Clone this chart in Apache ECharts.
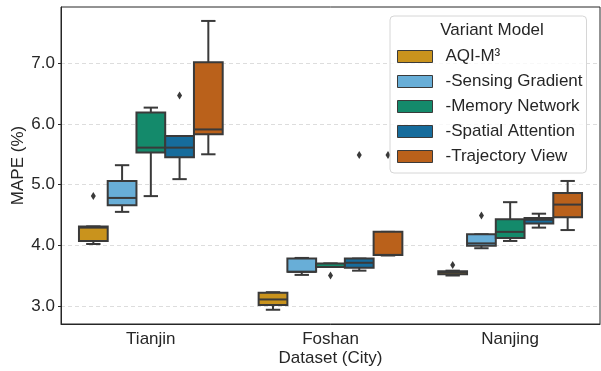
<!DOCTYPE html>
<html>
<head>
<meta charset="utf-8">
<script src="https://cdn.jsdelivr.net/npm/echarts@6/dist/echarts.min.js"></script>
<style>
  html, body { margin: 0; padding: 0; background: #fff; }
  #chart { width: 601px; height: 371px; }
</style>
</head>
<body>
<div id="chart"></div>
<script>
// categories and tick labels
const cities = ['Tianjin', 'Foshan', 'Nanjing'];
const variants = ['AQI-M³', '-Sensing Gradient', '-Memory Network', '-Spatial Attention', '-Trajectory View'];
const yTicks = [3, 4, 5, 6, 7];

// [min, q1, median, q3, max] for each city
const aqiStats        = [[4.02, 4.07, 4.29, 4.31, 4.31], [2.935, 3.015, 3.105, 3.215, 3.225], [3.50, 3.52, 3.55, 3.57, 3.58]];
const sensingStats    = [[4.55, 4.66, 4.78, 5.06, 5.32], [3.51, 3.56, 3.56, 3.78, 3.79], [3.95, 3.99, 4.03, 4.18, 4.18]];
const memoryStats     = [[4.81, 5.53, 5.61, 6.19, 6.27], [3.64, 3.64, 3.64, 3.70, 3.70], [4.07, 4.12, 4.22, 4.43, 4.71]];
const spatialStats    = [[5.09, 5.45, 5.61, 5.80, 5.80], [3.58, 3.63, 3.71, 3.78, 3.78], [4.29, 4.36, 4.42, 4.45, 4.52]];
const trajectoryStats = [[5.50, 5.83, 5.91, 7.02, 7.70], [3.83, 3.84, 3.84, 4.22, 4.22], [4.25, 4.46, 4.67, 4.86, 5.06]];

// outliers: [cityIndex, variantIndex, value]
const outliers = [
  [0, 0, 4.81], [0, 3, 6.47],
  [1, 2, 3.50], [1, 3, 5.49], [1, 4, 5.49],
  [2, 0, 3.675], [2, 1, 4.49]
];

const allStats = [aqiStats, sensingStats, memoryStats, spatialStats, trajectoryStats];
const colors = ['#c9931d', '#68aed7', '#148a6b', '#166c9c', '#ba611b'];
const lineColor = '#3a3a3a';
const font = 'Liberation Sans';
const fs = 17;

const boxX = (api, cityIdx, k) => {
  const band = api.size([1, 0])[0];
  const w = band * 0.8 / variants.length;
  const cx = api.coord([cityIdx, 0])[0] + (k - (variants.length - 1) / 2) * w;
  return { cx, w };
};

const boxRender = (k) => (params, api) => {
  const ci = api.value(0);
  const { cx, w } = boxX(api, ci, k);
  const y = [1, 2, 3, 4, 5].map(d => api.coord([ci, api.value(d)])[1]);
  const ls = { stroke: lineColor, lineWidth: 2 };
  return {
    type: 'group',
    children: [
      { type: 'line', shape: { x1: cx, y1: y[0], x2: cx, y2: y[1] }, style: ls },
      { type: 'line', shape: { x1: cx, y1: y[3], x2: cx, y2: y[4] }, style: ls },
      { type: 'line', shape: { x1: cx - w / 4, y1: y[0], x2: cx + w / 4, y2: y[0] }, style: ls },
      { type: 'line', shape: { x1: cx - w / 4, y1: y[4], x2: cx + w / 4, y2: y[4] }, style: ls },
      { type: 'rect', shape: { x: cx - w / 2, y: y[3], width: w, height: y[1] - y[3] },
        style: { fill: colors[k], stroke: lineColor, lineWidth: 2 } },
      { type: 'line', shape: { x1: cx - w / 2, y1: y[2], x2: cx + w / 2, y2: y[2] }, style: ls }
    ]
  };
};

const boxSeries = variants.map((name, k) => ({
  name,
  type: 'custom',
  renderItem: boxRender(k),
  itemStyle: { color: colors[k] },
  encode: { x: 0, y: [1, 2, 3, 4, 5] },
  data: allStats[k].map((s, i) => [i, ...s]),
  z: 2
}));

const outlierSeries = {
  type: 'custom',
  renderItem: (params, api) => {
    const ci = api.value(0);
    const { cx } = boxX(api, ci, api.value(1));
    const cy = api.coord([ci, api.value(2)])[1];
    return {
      type: 'polygon',
      shape: { points: [[cx, cy - 4], [cx + 2.5, cy], [cx, cy + 4], [cx - 2.5, cy]] },
      style: { fill: lineColor }
    };
  },
  encode: { x: 0, y: 2 },
  data: outliers,
  z: 3
};

const chart = echarts.init(document.getElementById('chart'));
chart.setOption({
  animation: false,
  backgroundColor: '#fff',
  textStyle: { fontFamily: font },
  grid: {
    left: 61, right: 1, top: 7, bottom: 47,
    outerBoundsMode: 'none', containLabel: false,
    show: true, borderColor: '#262626', borderWidth: 1
  },
  legend: {
    orient: 'vertical',
    left: 390, top: 16,
    padding: [32, 4, 8, 7],
    itemWidth: 35, itemHeight: 12, itemGap: 8,
    icon: 'rect',
    itemStyle: { borderColor: lineColor, borderWidth: 1 },
    textStyle: { fontFamily: font, fontSize: fs, color: '#262626', padding: [0, 0, 0, 8] },
    borderColor: '#d6d6d6', borderWidth: 1, borderRadius: 4,
    backgroundColor: 'rgba(255,255,255,0.8)',
    selectedMode: false,
    data: variants
  },
  graphic: [{
    type: 'text', x: 492, y: 30, z: 10,
    style: { text: 'Variant Model', fontFamily: font, fontSize: fs, fill: '#262626',
      textAlign: 'center', textVerticalAlign: 'middle' }
  }],
  xAxis: {
    type: 'category',
    data: cities,
    name: 'Dataset (City)', nameLocation: 'middle', nameGap: 26, nameMoveOverlap: false,
    nameTextStyle: { fontFamily: font, fontSize: fs, color: '#262626' },
    axisLine: { lineStyle: { color: '#262626', width: 1 } },
    axisTick: { alignWithLabel: true, length: 4, lineStyle: { color: '#262626' } },
    axisLabel: { fontFamily: font, fontSize: fs, color: '#262626', margin: 7 },
    splitLine: { show: false }
  },
  yAxis: {
    type: 'value',
    min: 2.7, max: 7.93,
    name: 'MAPE (%)', nameLocation: 'middle', nameGap: 34, nameMoveOverlap: false,
    nameTextStyle: { fontFamily: font, fontSize: fs, color: '#262626' },
    axisLine: { show: true, lineStyle: { color: '#262626', width: 1 } },
    axisTick: { show: true, length: 3, customValues: yTicks, lineStyle: { color: '#262626' } },
    axisLabel: { fontFamily: font, fontSize: fs, color: '#262626', margin: 6,
      customValues: yTicks, formatter: v => v.toFixed(1) },
    splitLine: { show: true, lineStyle: { color: '#dddddd', type: [4, 3], width: 1 } }
  },
  series: [...boxSeries, outlierSeries]
});
</script>
</body>
</html>
